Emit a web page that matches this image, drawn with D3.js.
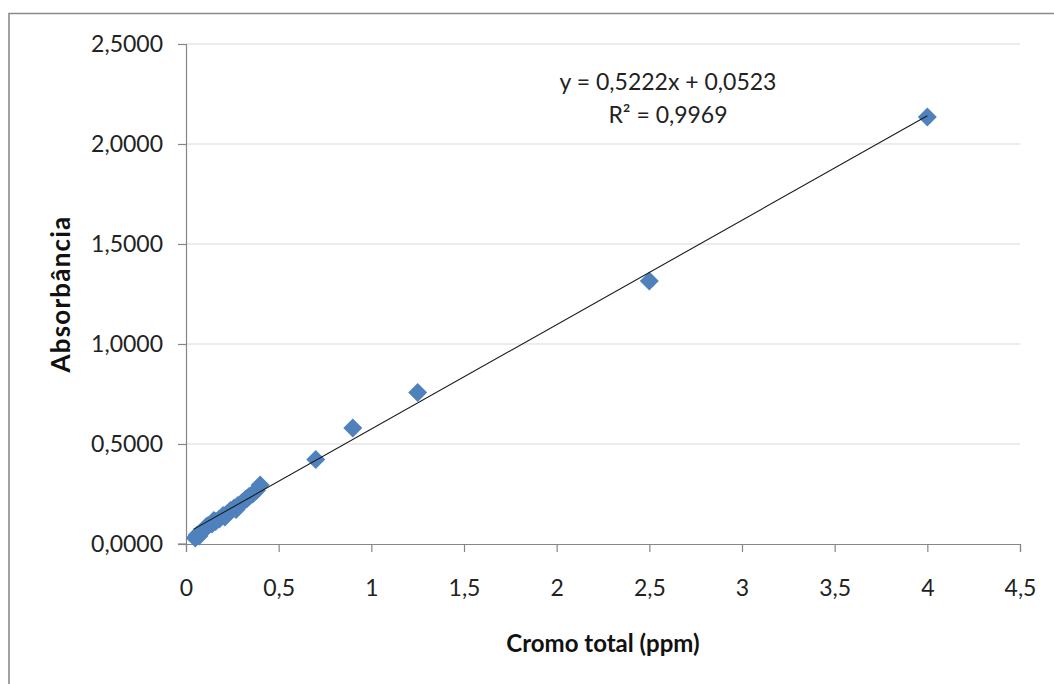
<!DOCTYPE html>
<html lang="pt">
<head>
<meta charset="utf-8">
<script src="https://d3js.org/d3.v7.min.js"></script>
<style>
  body { margin: 0; background: #fff; }
  svg { display: block; font-family: Lato, "Open Sans", sans-serif; }
</style>
</head>
<body>
<svg id="chart" width="1054" height="684"></svg>
<script>
// leituras: cromo total (ppm) x absorbância
const cromo = [0.05, 0.06, 0.07, 0.08, 0.10, 0.11, 0.12, 0.14, 0.15, 0.16, 0.18, 0.20, 0.21, 0.22,
               0.24, 0.26, 0.27, 0.28, 0.30, 0.32, 0.33, 0.34, 0.36, 0.38, 0.40,
               0.70, 0.90, 1.25, 2.50, 4.00];
const absorb = [0.030, 0.045, 0.040, 0.058, 0.075, 0.088, 0.092, 0.100, 0.118, 0.112, 0.125, 0.142, 0.135, 0.150,
                0.168, 0.180, 0.172, 0.192, 0.205, 0.222, 0.228, 0.238, 0.250, 0.268, 0.295,
                0.422, 0.580, 0.757, 1.315, 2.135];
const xTicks = [0, 0.5, 1, 1.5, 2, 2.5, 3, 3.5, 4, 4.5];
const yTicks = [0, 0.5, 1, 1.5, 2, 2.5];
const slope = 0.5222, intercept = 0.0523;
const eqLines = ["y = 0,5222x + 0,0523", "R² = 0,9969"];

const svg = d3.select("#chart");
const mLeft = 186, mRight = 1020, mTop = 44, mBottom = 544;

// moldura externa do gráfico
svg.append("path")
  .attr("d", "M9,690 L9,13.5 L1060,13.5")
  .attr("fill", "none").attr("stroke", "#8a8a8a").attr("stroke-width", 1.6);

const x = d3.scaleLinear().domain([0, 4.5]).range([mLeft, mRight]);
const y = d3.scaleLinear().domain([0, 2.5]).range([mBottom, mTop]);

const comma = v => String(v).replace(".", ",");

// grade horizontal
svg.append("g").selectAll("line").data(yTicks.slice(1)).join("line")
  .attr("x1", mLeft).attr("x2", mRight)
  .attr("y1", d => y(d)).attr("y2", d => y(d))
  .attr("stroke", "#d9d9d9").attr("stroke-width", 1);

// eixo y
const yAxis = svg.append("g").attr("transform", `translate(${mLeft},0)`)
  .call(d3.axisLeft(y).tickValues(yTicks).tickSize(8).tickPadding(15)
    .tickFormat(d => d3.format(".4f")(d).replace(".", ",")));
// eixo x
const xAxis = svg.append("g").attr("transform", `translate(0,${mBottom})`)
  .call(d3.axisBottom(x).tickValues(xTicks).tickSize(8).tickPadding(28)
    .tickFormat(comma));
[yAxis, xAxis].forEach(g => {
  g.select(".domain").attr("stroke", "#868686").attr("stroke-width", 1.2);
  g.selectAll(".tick line").attr("stroke", "#868686").attr("stroke-width", 1.2);
  g.selectAll("text").attr("fill", "#222").attr("font-size", 23)
    .attr("font-family", "Lato, 'Open Sans', sans-serif");
});
// eixo x prolongado à esquerda até a marca de 0,0000
svg.append("line").attr("x1", mLeft - 8).attr("x2", mLeft)
  .attr("y1", mBottom).attr("y2", mBottom)
  .attr("stroke", "#868686").attr("stroke-width", 1.2);

// pontos (losangos)
const pts = cromo.map((c, i) => [c, absorb[i]]);
svg.append("g").selectAll("path").data(pts).join("path")
  .attr("transform", d => `translate(${x(d[0])},${y(d[1])})`)
  .attr("d", d3.symbol(d3.symbolDiamond2, 230))
  .attr("fill", "#4f81bd");

// linha de tendência
const x0 = 0.04, x1 = 4.0;
svg.append("line")
  .attr("x1", x(x0)).attr("y1", y(slope * x0 + intercept))
  .attr("x2", x(x1)).attr("y2", y(slope * x1 + intercept))
  .attr("stroke", "#1a1a1a").attr("stroke-width", 1.1);

// equação
svg.append("g").selectAll("text").data(eqLines).join("text")
  .attr("x", 668).attr("y", (d, i) => 90 + i * 33)
  .attr("text-anchor", "middle").attr("font-size", 23).attr("fill", "#222")
  .text(d => d);

// títulos dos eixos
svg.append("text")
  .attr("transform", `translate(70,${(mTop + mBottom) / 2}) rotate(-90)`)
  .attr("text-anchor", "middle").attr("font-size", 26).attr("font-weight", 700)
  .attr("letter-spacing", 1.2)
  .attr("fill", "#111").text("Absorbância");
svg.append("text")
  .attr("x", 603).attr("y", 652)
  .attr("text-anchor", "middle").attr("font-size", 24).attr("font-weight", 700)
  .attr("fill", "#111").text("Cromo total (ppm)");
</script>
</body>
</html>
